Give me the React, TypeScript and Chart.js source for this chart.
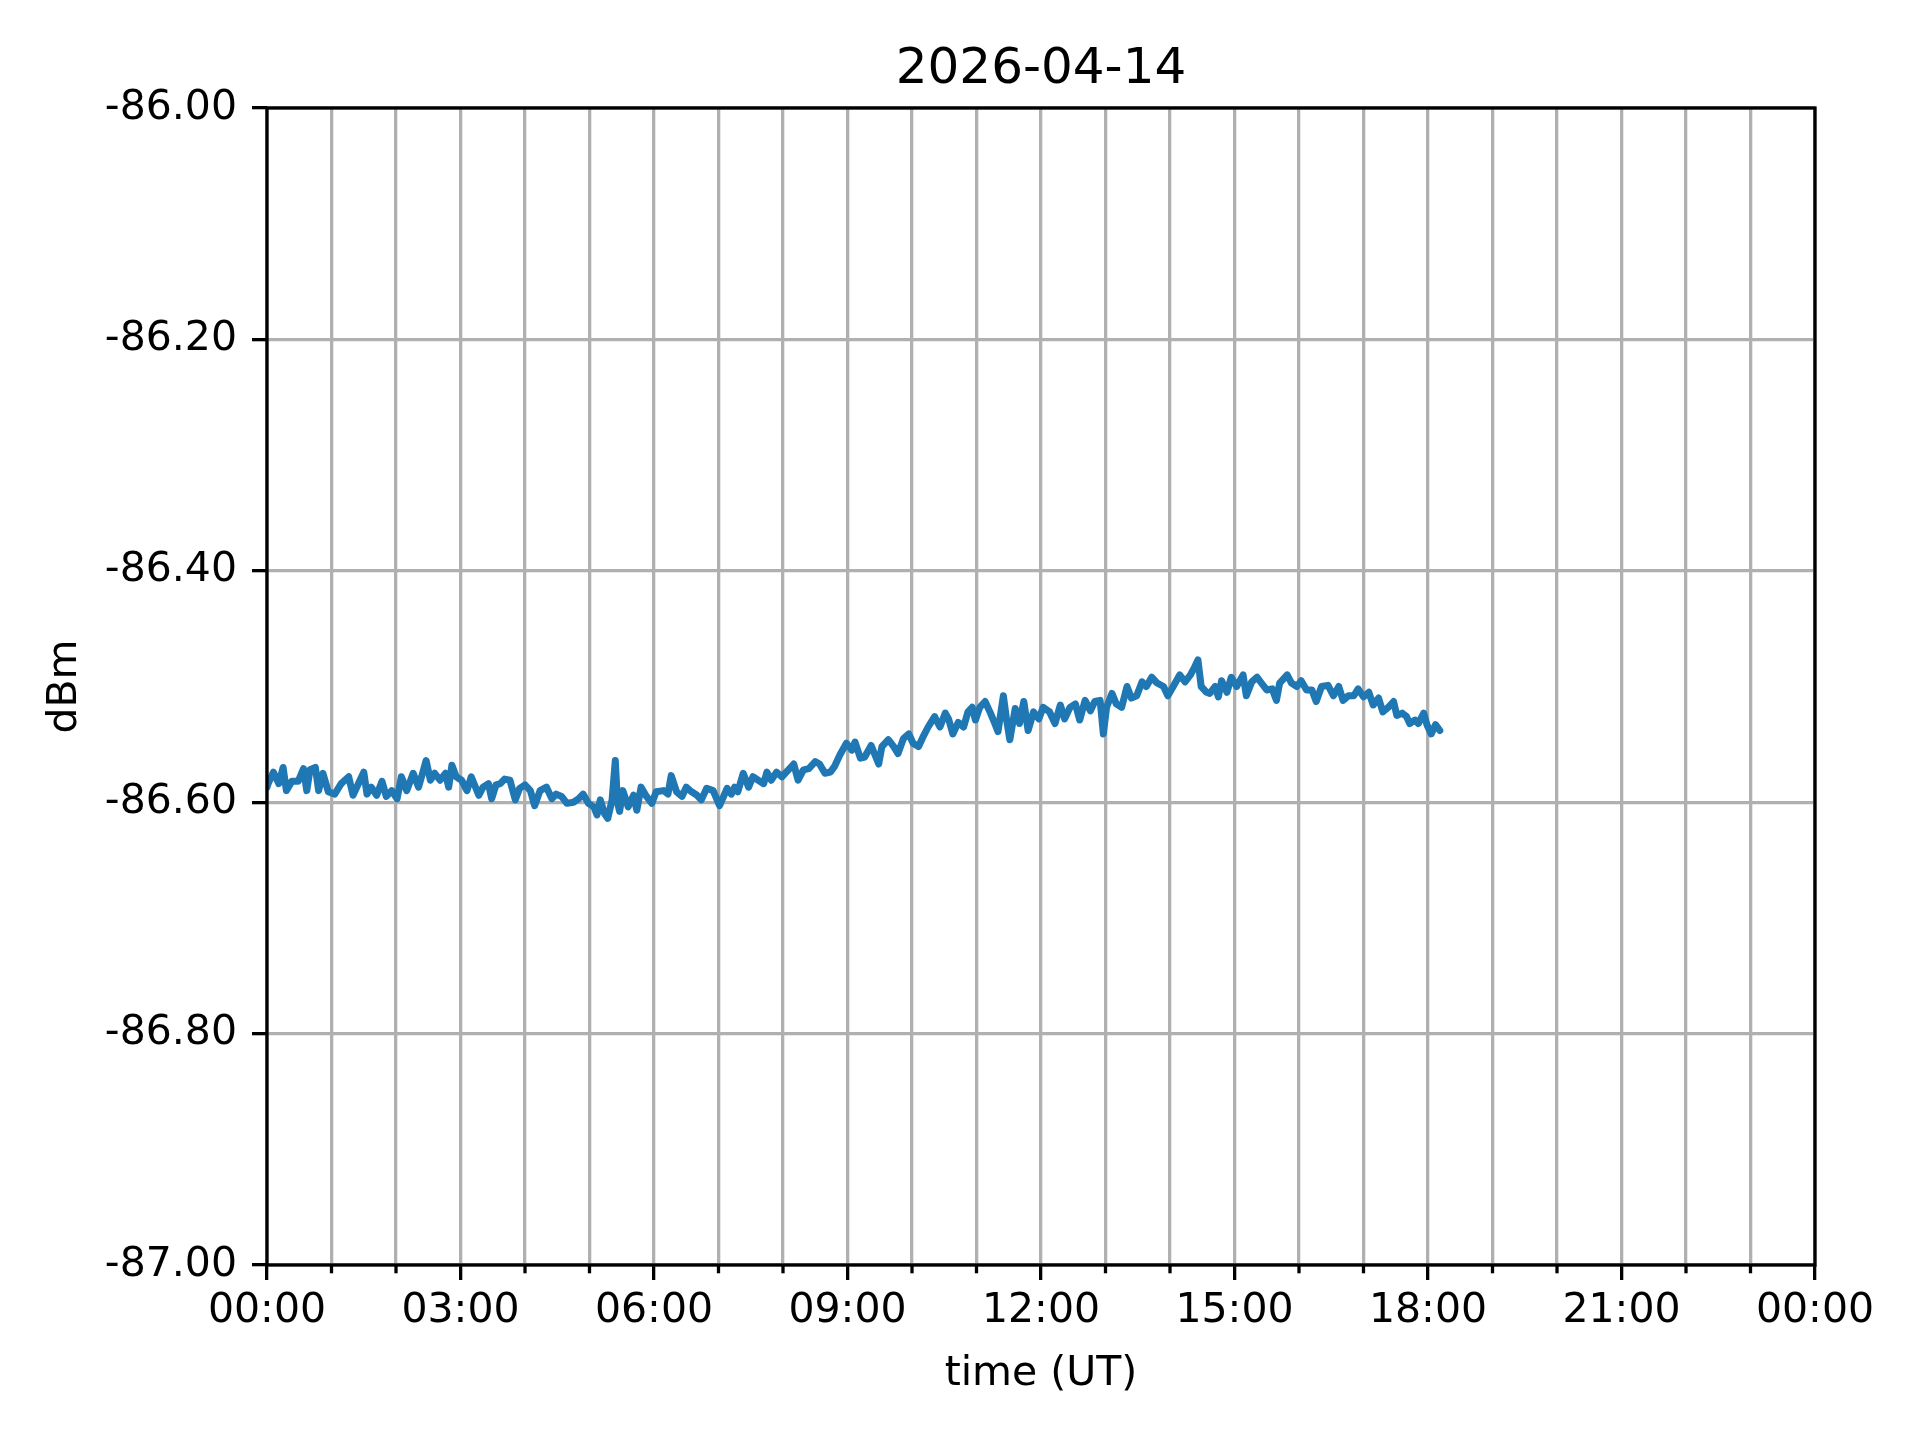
import React, { useEffect, useRef } from 'react';
import { Chart, registerables } from 'chart.js';

Chart.register(...registerables);

const TITLE = '2026-04-14';
const X_TITLE = 'time (UT)';
const Y_TITLE = 'dBm';

// minutes after 00:00 UT
const timeMinutes = [
  0, 1, 6, 11, 15, 18, 23, 29, 34, 37, 40, 45, 48, 52, 57, 63, 69, 76, 80, 85,
  90, 93, 97, 102, 107, 111, 116, 121, 125, 130, 136, 141, 145, 148, 152, 156, 161, 166, 169, 172,
  176, 181, 186, 190, 197, 201, 206, 209, 213,
  217, 221, 226, 231, 235, 240, 245, 249, 254, 260, 265, 269, 274, 279, 285, 290, 294, 299, 304, 307,
  310, 314, 317, 321, 324, 326, 328, 331, 336, 341, 344, 348, 353, 358, 362, 369, 373, 376, 381, 386,
  390, 395, 400, 404, 409, 415, 421, 428, 432,
  435, 438, 443, 448, 452, 457, 462, 465, 469, 474, 479, 485, 490, 494, 499, 504, 510, 514, 519, 524,
  528, 533, 539, 544, 547, 552, 556, 562, 569, 572, 578, 583, 587, 592, 597, 601, 606, 610, 615, 621,
  626, 631, 634, 638, 643, 648, 652,
  656, 659, 663, 668, 673, 677, 680, 685, 688, 691, 696, 700, 704, 708, 713, 718, 722, 728, 733, 738,
  742, 747, 752, 756, 761, 766, 770, 775, 778, 781, 786, 790, 795, 800, 804, 809, 814, 818, 823, 828,
  834, 838, 843, 849, 854, 859, 863, 866, 869, 874,
  877, 882, 885, 888, 893, 897, 902, 905, 908, 911, 916, 921, 925, 930, 935, 939, 942, 949, 953, 958,
  962, 967, 972, 976, 981, 987, 992, 997, 1001, 1006, 1011, 1015, 1020, 1025, 1029, 1034, 1038, 1043, 1048, 1051,
  1056, 1060, 1063, 1068, 1071, 1076, 1079, 1083, 1087, 1091,
];

// received level, dBm
const signalDbm = [
  -86.587, -86.584, -86.574, -86.584, -86.570, -86.590, -86.582, -86.582, -86.571, -86.590,
  -86.572, -86.570, -86.590, -86.575, -86.591, -86.593, -86.584, -86.578, -86.594, -86.584,
  -86.574, -86.593, -86.587, -86.594, -86.582, -86.595, -86.590, -86.597, -86.578, -86.590,
  -86.575, -86.587, -86.574, -86.564, -86.581, -86.575, -86.581, -86.575, -86.587, -86.568,
  -86.578, -86.581, -86.590, -86.578, -86.594, -86.587, -86.584, -86.597, -86.585,
  -86.584, -86.580, -86.581, -86.598, -86.588, -86.585, -86.590, -86.603, -86.590, -86.587,
  -86.597, -86.593, -86.595, -86.601, -86.600, -86.597, -86.593, -86.601, -86.604, -86.611,
  -86.598, -86.610, -86.614, -86.598, -86.564, -86.600, -86.608, -86.590, -86.604, -86.594,
  -86.607, -86.587, -86.595, -86.601, -86.591, -86.590, -86.593, -86.577, -86.591, -86.595,
  -86.587, -86.591, -86.594, -86.598, -86.588, -86.590, -86.603, -86.588, -86.593,
  -86.587, -86.591, -86.575, -86.587, -86.578, -86.581, -86.584, -86.574, -86.581, -86.574,
  -86.578, -86.572, -86.567, -86.581, -86.572, -86.571, -86.565, -86.567, -86.575, -86.574,
  -86.569, -86.559, -86.549, -86.555, -86.548, -86.562, -86.561, -86.551, -86.567, -86.552,
  -86.546, -86.552, -86.558, -86.545, -86.541, -86.549, -86.552, -86.544, -86.535, -86.526,
  -86.535, -86.523, -86.528, -86.541, -86.531, -86.535, -86.522,
  -86.518, -86.529, -86.518, -86.513, -86.523, -86.532, -86.539, -86.508, -86.529, -86.546,
  -86.519, -86.532, -86.513, -86.538, -86.522, -86.528, -86.518, -86.522, -86.532, -86.516,
  -86.528, -86.518, -86.515, -86.529, -86.512, -86.521, -86.513, -86.512, -86.541, -86.518,
  -86.506, -86.515, -86.518, -86.500, -86.510, -86.508, -86.496, -86.500, -86.492, -86.497,
  -86.500, -86.508, -86.500, -86.490, -86.496, -86.490, -86.483, -86.477, -86.500, -86.505,
  -86.506, -86.500, -86.509, -86.495, -86.505, -86.492, -86.500, -86.495, -86.490, -86.508,
  -86.496, -86.492, -86.497, -86.503, -86.502, -86.512, -86.497, -86.490, -86.497, -86.500,
  -86.495, -86.503, -86.503, -86.513, -86.500, -86.499, -86.508, -86.500, -86.512, -86.508,
  -86.508, -86.502, -86.509, -86.505, -86.516, -86.510, -86.522, -86.518, -86.513, -86.525,
  -86.523, -86.526, -86.532, -86.529, -86.532, -86.523, -86.533, -86.541, -86.533, -86.538,
];

const X_MIN = 0;
const X_MAX = 1440;
const X_GRID_STEP = 60;
const X_LABEL_STEP = 180;
const Y_MIN = -87;
const Y_MAX = -86;
const Y_STEP = 0.2;

const FONT = '"DejaVu Sans", "Liberation Sans", sans-serif';
const LW = 3.3;

function fmtTime(v: number): string {
  const m = Math.round(v);
  const h = Math.floor(m / 60) % 24;
  const mm = m % 60;
  return String(h).padStart(2, '0') + ':' + String(mm).padStart(2, '0');
}

const framePlugin = {
  id: 'frameAndMinorTicks',
  afterDraw(chart: any) {
    const { ctx, chartArea: a, scales } = chart;
    const xs = scales.x;
    ctx.save();
    ctx.strokeStyle = '#000000';
    ctx.lineWidth = LW;
    for (let m = X_MIN; m <= X_MAX; m += X_GRID_STEP) {
      if (m % X_LABEL_STEP === 0) continue;
      const px = xs.getPixelForValue(m);
      ctx.beginPath();
      ctx.moveTo(px, a.bottom);
      ctx.lineTo(px, a.bottom + 8.3);
      ctx.stroke();
    }
    ctx.lineJoin = 'miter';
    ctx.strokeRect(a.left, a.top, a.right - a.left, a.bottom - a.top);
    ctx.restore();
  },
};

export default function App() {
  const ref = useRef<HTMLCanvasElement | null>(null);

  useEffect(() => {
    if (!ref.current) return;
    const points = timeMinutes.map((t, i) => ({ x: t, y: signalDbm[i] }));
    const chart = new Chart(ref.current, {
      type: 'line',
      data: {
        datasets: [
          {
            data: points,
            borderColor: '#1f77b4',
            backgroundColor: '#1f77b4',
            borderWidth: 7,
            pointRadius: 0,
            tension: 0,
            borderJoinStyle: 'round',
            borderCapStyle: 'round',
            fill: false,
          },
        ],
      },
      options: {
        animation: false,
        responsive: false,
        devicePixelRatio: 1,
        layout: { padding: { left: 0, right: 105, top: 0, bottom: 0 } },
        plugins: {
          legend: { display: false },
          tooltip: { enabled: false },
          title: {
            display: true,
            fullSize: false,
            text: TITLE,
            color: '#000000',
            font: { family: FONT, size: 50, weight: 'normal', lineHeight: 1.2 },
            padding: { top: 40, bottom: 8 },
          },
        },
        scales: {
          x: {
            type: 'linear',
            min: X_MIN,
            max: X_MAX,
            afterFit(scale: any) {
              scale.height = 175;
            },
            border: { display: false },
            grid: {
              color: '#b0b0b0',
              lineWidth: LW,
              drawTicks: true,
              tickLength: 15,
              tickWidth: LW,
              tickColor: (ctx: any) =>
                ctx.tick && Math.round(ctx.tick.value) % X_LABEL_STEP === 0 ? '#000000' : 'rgba(0,0,0,0)',
            },
            ticks: {
              stepSize: X_GRID_STEP,
              autoSkip: false,
              maxRotation: 0,
              minRotation: 0,
              padding: 7,
              color: '#000000',
              font: { family: FONT, size: 41 },
              callback: (v: any) => (Math.round(Number(v)) % X_LABEL_STEP === 0 ? fmtTime(Number(v)) : ''),
            },
            title: {
              display: true,
              text: X_TITLE,
              color: '#000000',
              font: { family: FONT, size: 41, lineHeight: 1.2 },
              padding: { top: 0, bottom: 41 },
            },
          },
          y: {
            type: 'linear',
            min: Y_MIN,
            max: Y_MAX,
            afterFit(scale: any) {
              scale.width = 267;
            },
            border: { display: false },
            grid: {
              color: '#b0b0b0',
              lineWidth: LW,
              drawTicks: true,
              tickLength: 15,
              tickWidth: LW,
              tickColor: '#000000',
            },
            ticks: {
              stepSize: Y_STEP,
              padding: 15,
              color: '#000000',
              font: { family: FONT, size: 41 },
              callback: (v: any) => Number(v).toFixed(2),
            },
            title: {
              display: true,
              text: Y_TITLE,
              color: '#000000',
              font: { family: FONT, size: 41, lineHeight: 1.2 },
              padding: { top: 41, bottom: 0 },
            },
          },
        },
      } as any,
      plugins: [framePlugin],
    });
    return () => chart.destroy();
  }, []);

  return (
    <div style={{ position: 'absolute', left: 0, top: 0, width: 1920, height: 1440, background: '#ffffff' }}>
      <canvas ref={ref} width={1920} height={1440} style={{ display: 'block', width: 1920, height: 1440 }} />
    </div>
  );
}
